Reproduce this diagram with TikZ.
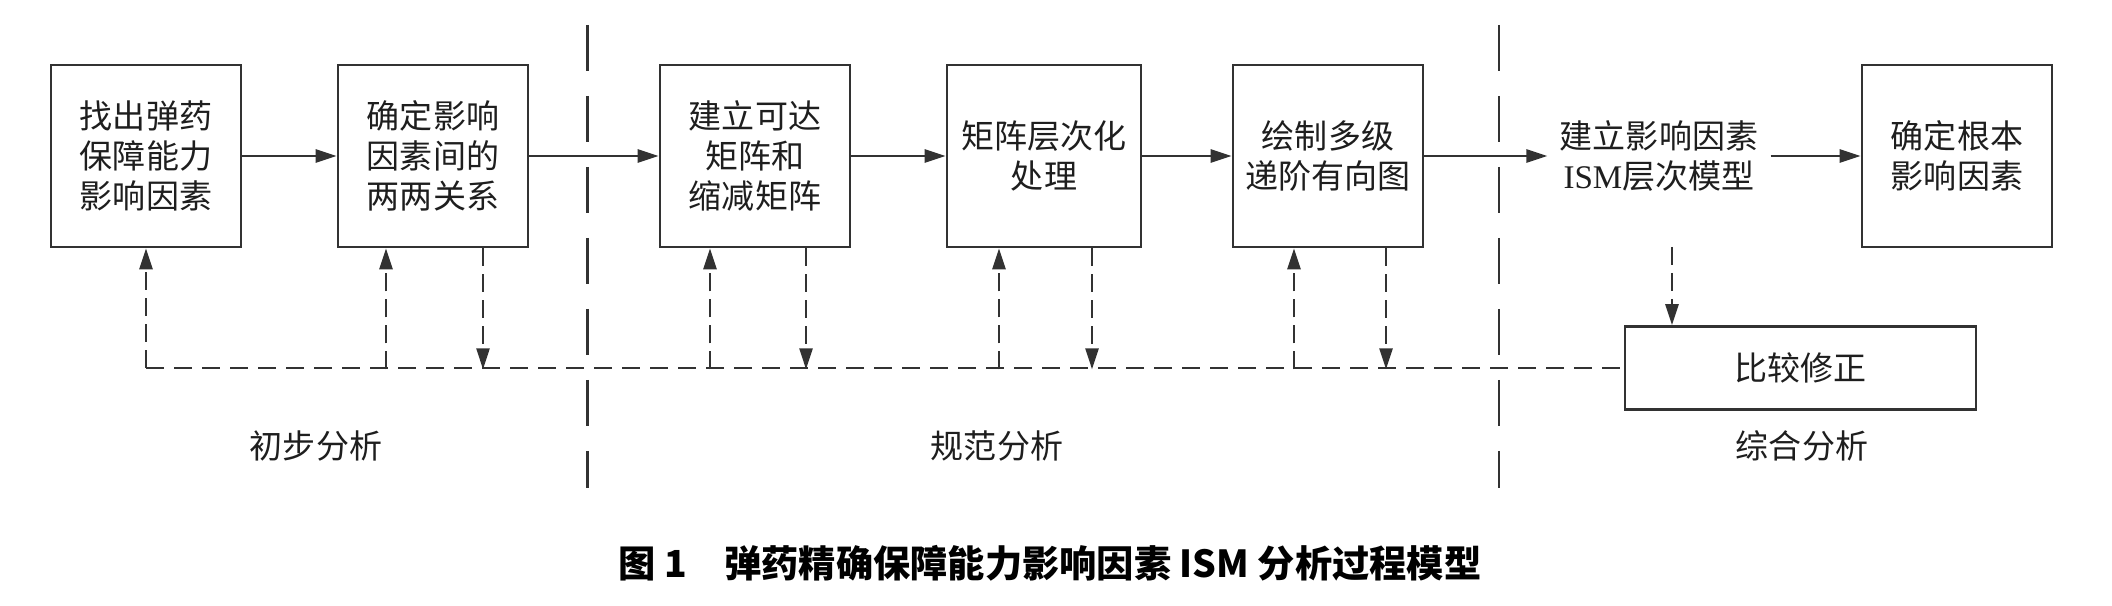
\documentclass[tikz,border=0pt]{standalone}
\usepackage{fontspec}
\setmainfont{Liberation Serif}
\newfontfamily\cjk{Noto Sans CJK SC}
\usetikzlibrary{arrows.meta, positioning, calc}
\definecolor{linegray}{RGB}{50, 50, 50}
\definecolor{textgray}{RGB}{30, 30, 30}

\tikzset{
  stagebox/.style={draw=linegray, line width=0.75pt, minimum width=1.9cm, minimum height=1.82cm,
    align=center, inner sep=0pt, text=textgray, font=\cjk\fontsize{9.4}{11.4}\selectfont},
  flowarrow/.style={draw=linegray, line width=0.75pt, -{Triangle[length=2.1mm, width=1.3mm]}},
  backarrow/.style={flowarrow, dash pattern=on 1.8mm off 0.8mm},
  backline/.style={draw=linegray, line width=0.75pt, dash pattern=on 1.8mm off 1mm},
  divider/.style={draw=linegray, line width=0.7pt, dash pattern=on 4.6mm off 2.5mm},
  phaselabel/.style={text=textgray, font=\cjk\fontsize{9.4}{11.4}\selectfont}
}

\begin{document}
\begin{tikzpicture}
  \useasboundingbox (0, 0) rectangle (21.12, 6.06);

  % main chain
  \node[stagebox] (find) at (1.46, 4.50) {找出弹药\\保障能力\\影响因素};
  \node[stagebox] (pair) at (4.33, 4.50) {确定影响\\因素间的\\两两关系};
  \node[stagebox] (reach) at (7.55, 4.50) {建立可达\\矩阵和\\缩减矩阵};
  \node[stagebox, minimum width=1.94cm] (level) at (10.44, 4.50) {矩阵层次化\\处理};
  \node[stagebox] (graph) at (13.28, 4.50) {绘制多级\\递阶有向图};
  \node[phaselabel, align=center] (model) at (16.59, 4.50) {建立影响因素\\{\rmfamily ISM}层次模型};
  \node[stagebox] (root) at (19.57, 4.50) {确定根本\\影响因素};
  \node[stagebox, minimum width=3.51cm, minimum height=0.83cm] (compare) at (18.005, 2.38) {比较修正};

  \draw[flowarrow] (find) -- (pair);
  \draw[flowarrow] (pair) -- (reach);
  \draw[flowarrow] (reach) -- (level);
  \draw[flowarrow] (level) -- (graph);
  \draw[flowarrow] (graph) -- (model);
  \draw[flowarrow] (model) -- (root);

  % phase dividers
  \coordinate (divAtop) at (5.875, 5.81);
  \coordinate (divAbot) at (5.875, 1.18);
  \coordinate (divBtop) at (14.99, 5.81);
  \coordinate (divBbot) at (14.99, 1.18);
  \draw[divider] (divAtop) -- (divAbot);
  \draw[divider] (divBtop) -- (divBbot);

  % feedback loop
  \coordinate (loopstart) at (find.south |- compare.west);
  \draw[backline] (loopstart) -- (compare.west);
  \draw[backarrow] (loopstart) -- (find.south);
  \foreach \stage/\up/\down in {pair/-0.47/0.50, reach/-0.45/0.51, level/-0.45/0.48, graph/-0.34/0.58} {
    \draw[backarrow] ($(\stage.south)+(\up, -1.21)$) -- ($(\stage.south)+(\up, 0)$);
    \draw[backarrow] ($(\stage.south)+(\down, 0)$) -- ($(\stage.south)+(\down, -1.21)$);
  }
  \coordinate (modeltap) at (16.72, 3.59);
  \draw[backarrow] (modeltap) -- (modeltap |- compare.north);

  % phase names and caption
  \node[phaselabel] (phaseinit) at (3.16, 1.60) {初步分析};
  \node[phaselabel] (phasenorm) at (9.97, 1.60) {规范分析};
  \node[phaselabel] (phasesum) at (18.02, 1.60) {综合分析};
  \node[text=black, font=\cjk\bfseries\fontsize{10.6}{13}\selectfont] (caption) at (10.50, 0.43)
    {图 1\quad 弹药精确保障能力影响因素 ISM 分析过程模型};
\end{tikzpicture}
\end{document}
